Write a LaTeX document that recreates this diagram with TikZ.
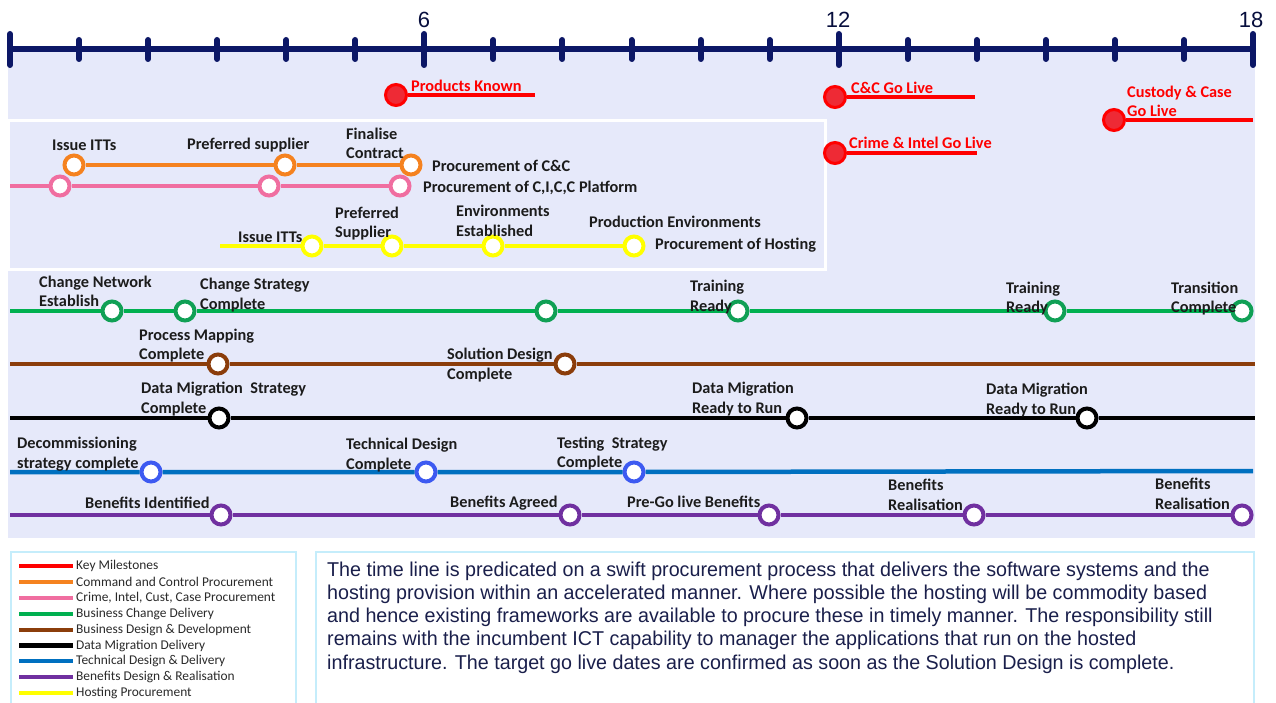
\documentclass[tikz,border=0pt]{standalone}
\usepackage{fontspec}
\setmainfont{Carlito}
\newfontfamily\descfont{Liberation Sans}[FakeStretch=0.985]
\newfontfamily\axisfont{Liberation Sans}

\definecolor{panelbg}{HTML}{E6E9FA}
\definecolor{axisnavy}{HTML}{0C1766}
\definecolor{keyred}{HTML}{FF0000}
\definecolor{keyfill}{HTML}{EE2A35}
\definecolor{ccorange}{HTML}{F5821F}
\definecolor{cicpink}{HTML}{F06EA0}
\definecolor{hostyellow}{HTML}{FFFF00}
\definecolor{bcgreen}{HTML}{00B050}
\definecolor{bcring}{HTML}{10A055}
\definecolor{bdbrown}{HTML}{8B3D0B}
\definecolor{dmblack}{HTML}{000000}
\definecolor{tdblue}{HTML}{0070C0}
\definecolor{tdring}{HTML}{3D5AF1}
\definecolor{bnpurple}{HTML}{7030A0}
\definecolor{labelcol}{HTML}{1C1C1C}
\definecolor{legendcol}{HTML}{2A2A2A}
\definecolor{boxedge}{HTML}{C5EDFB}
\definecolor{desccol}{HTML}{1A1F4B}

\tikzset{
  route/.style={line width=4.5pt, draw=#1},
  stn/.style={circle, draw=#1, line width=4pt, fill=white, minimum size=19pt, inner sep=0pt},
  keyms/.style={circle, draw=keyred, line width=3pt, fill=keyfill, minimum size=21pt, inner sep=0pt},
  keyline/.style={line width=4pt, draw=keyred},
  lbl/.style={font=\bfseries\fontsize{16.3}{19.5}\selectfont, text=labelcol, inner sep=0pt, align=left, anchor=west},
  keylbl/.style={font=\bfseries\fontsize{16.3}{19.5}\selectfont, text=keyred, inner sep=0pt, align=left, anchor=west},
  axisline/.style={line width=6pt, draw=axisnavy, line cap=round},
  ticklbl/.style={font=\axisfont\fontsize{22}{24}\selectfont, text=axisnavy!60!black, inner sep=0pt},
  legtext/.style={font=\fontsize{13.4}{15}\selectfont, text=legendcol, inner sep=0pt, anchor=west},
  legline/.style={line width=4.5pt, draw=#1, shorten >=3pt},
  framebox/.style={draw=boxedge, line width=2.5pt, fill=white}
}

\begin{document}
\begin{tikzpicture}[x=1pt, y=-1pt]
\useasboundingbox (0,0) rectangle (1276,703);

% background panel and procurement frame
\fill[panelbg] (8,49) rectangle (1255,538);
\draw[white, line width=3pt] (8,120.5) rectangle (825,269);

% time axis (months 0 to 18)
\coordinate (ax0) at (10,49);
\coordinate (ax18) at (1253,49);
\draw[axisline] (ax0) -- (ax18);
\foreach \m in {1,2,3,4,5,7,8,9,10,11,13,14,15,16,17} {
  \draw[axisline] ({10+\m*69.0556},40) -- ({10+\m*69.0556},59);
}
\foreach \m in {0,6,12,18} {
  \draw[axisline] ({10+\m*69.0556},34) -- ({10+\m*69.0556},65);
}
\node[ticklbl] (t6) at (424,20) {6};
\node[ticklbl] (t12) at (838,20) {12};
\node[ticklbl] (t18) at (1251,20) {18};

% key milestones
\node[keyms] (pk) at (396,95) {};
\coordinate (pkE) at (535,95);
\draw[keyline] (pk) -- (pkE);
\node[keyms] (cc) at (835,97) {};
\coordinate (ccE) at (975,97);
\draw[keyline] (cc) -- (ccE);
\node[keyms] (ci) at (835,153) {};
\coordinate (ciE) at (977,153);
\draw[keyline] (ci) -- (ciE);
\node[keyms] (cu) at (1114,120) {};
\coordinate (cuE) at (1253,120);
\draw[keyline] (cu) -- (cuE);
\node[keylbl] (pkL) at (411,86) {Products Known};
\node[keylbl] (ccL) at (851,88) {C\&C Go Live};
\node[keylbl] (ciL) at (849,143) {Crime \& Intel Go Live};
\node[keylbl] (cuL) at (1127,101.5) {Custody \& Case\\Go Live};

% command and control procurement
\node[stn=ccorange] (o1) at (74,165) {};
\node[stn=ccorange] (o2) at (285,165) {};
\node[stn=ccorange] (o3) at (411,165) {};
\draw[route=ccorange] (o1) -- (o2) -- (o3);

% crime, intel, cust, case procurement
\coordinate (pS) at (10,186);
\node[stn=cicpink] (p1) at (60,186) {};
\node[stn=cicpink] (p2) at (269,186) {};
\node[stn=cicpink] (p3) at (400,186) {};
\draw[route=cicpink] (pS) -- (p1) -- (p2) -- (p3);

% hosting procurement
\coordinate (yS) at (220,246);
\node[stn=hostyellow] (y1) at (312,246) {};
\node[stn=hostyellow] (y2) at (392,246) {};
\node[stn=hostyellow] (y3) at (493,246) {};
\node[stn=hostyellow] (y4) at (634,246) {};
\draw[route=hostyellow] (yS) -- (y1) -- (y2) -- (y3) -- (y4);

% business change delivery
\coordinate (gS) at (10,311);
\node[stn=bcring] (g1) at (112,311) {};
\node[stn=bcring] (g2) at (185,311) {};
\node[stn=bcring] (g3) at (546,311) {};
\node[stn=bcring] (g4) at (738,311) {};
\node[stn=bcring] (g5) at (1055,311) {};
\node[stn=bcring] (g6) at (1242,311) {};
\draw[route=bcgreen] (gS) -- (g1) -- (g2) -- (g3) -- (g4) -- (g5) -- (g6);

% business design and development
\coordinate (bS) at (10,364);
\node[stn=bdbrown] (b1) at (218,364) {};
\node[stn=bdbrown] (b2) at (565,364) {};
\coordinate (bE) at (1255,364);
\draw[route=bdbrown] (bS) -- (b1) -- (b2) -- (bE);

% data migration delivery
\coordinate (kS) at (10,418);
\node[stn=dmblack] (k1) at (219,418) {};
\node[stn=dmblack] (k2) at (797,418) {};
\node[stn=dmblack] (k3) at (1087,418) {};
\coordinate (kE) at (1255,418);
\draw[route=dmblack] (kS) -- (k1) -- (k2) -- (k3) -- (kE);

% technical design and delivery
\coordinate (uS) at (10,472);
\node[stn=tdring] (u1) at (151,472) {};
\node[stn=tdring] (u2) at (426,472) {};
\node[stn=tdring] (u3) at (634,472) {};
\coordinate (uE) at (1253,471);
\draw[route=tdblue] (uS) -- (u1) -- (u2) -- (u3) -- (uE);

% benefits design and realisation
\coordinate (vS) at (10,515);
\node[stn=bnpurple] (v1) at (221,515) {};
\node[stn=bnpurple] (v2) at (570,515) {};
\node[stn=bnpurple] (v3) at (769,515) {};
\node[stn=bnpurple] (v4) at (974,515) {};
\node[stn=bnpurple] (v5) at (1242,515) {};
\draw[route=bnpurple] (vS) -- (v1) -- (v2) -- (v3) -- (v4) -- (v5);

% milestone labels
\node[lbl] (o1L) at (52,145) {Issue ITTs};
\node[lbl] (o2L) at (187,145) {Preferred supplier};
\node[lbl] (o3L) at (346,143.5) {Finalise\\Contract};
\node[lbl] (oN) at (432,166) {Procurement of C\&C};
\node[lbl] (pN) at (423,188) {Procurement of C,I,C,C Platform};
\node[lbl] (y1L) at (238,237) {Issue ITTs};
\node[lbl] (y2L) at (335,223.5) {Preferred\\Supplier};
\node[lbl] (y3L) at (456,221) {Environments\\Established};
\node[lbl] (y4L) at (589,222) {Production Environments};
\node[lbl] (yN) at (655,245) {Procurement of Hosting};

\node[lbl] (g1L) at (39,291.5) {Change Network\\Establish};
\node[lbl] (g2L) at (200,295) {Change Strategy\\Complete};
\node[lbl] (g4L) at (690,297) {Training\\Ready};
\node[lbl] (g5L) at (1006,298.5) {Training\\Ready};
\node[lbl] (g6L) at (1171,298.5) {Transition\\Complete};

\node[lbl] (b1L) at (139,345.5) {Process Mapping\\Complete};
\node[lbl] (b2L) at (447,365) {Solution Design\\Complete};

\node[lbl] (k1L) at (141,399) {Data Migration\ \ Strategy\\Complete};
\node[lbl] (k2L) at (692,399) {Data Migration\\Ready to Run};
\node[lbl] (k3L) at (986,400) {Data Migration\\Ready to Run};

\node[lbl] (u1L) at (17,454) {Decommissioning\\strategy complete};
\node[lbl] (u2L) at (346,455) {Technical Design\\Complete};
\node[lbl] (u3L) at (557,453.5) {Testing\ \ Strategy\\Complete};

\node[lbl] (v1L) at (85,503) {Benefits Identified};
\node[lbl] (v2L) at (450,503) {Benefits Agreed};
\node[lbl] (v3L) at (627,502) {Pre-Go live Benefits};
\node[lbl] (v4L) at (888,495) {Benefits\\Realisation};
\node[lbl] (v5L) at (1155,494) {Benefits\\Realisation};

% legend
\draw[framebox] (11,552) rectangle (296,712);
\node[legtext] (l1) at (76,566) {Key Milestones};
\node[legtext] (l2) at (76,582) {Command and Control Procurement};
\node[legtext] (l3) at (76,598) {Crime, Intel, Cust, Case Procurement};
\node[legtext] (l4) at (76,614) {Business Change Delivery};
\node[legtext] (l5) at (76,630) {Business Design \& Development};
\node[legtext] (l6) at (76,645.5) {Data Migration Delivery};
\node[legtext] (l7) at (76,661) {Technical Design \& Delivery};
\node[legtext] (l8) at (76,677) {Benefits Design \& Realisation};
\node[legtext] (l9) at (76,693) {Hosting Procurement};
\draw[legline=keyred] (19,566) -- (l1.west);
\draw[legline=ccorange] (19,582) -- (l2.west);
\draw[legline=cicpink] (19,598) -- (l3.west);
\draw[legline=bcgreen] (19,614) -- (l4.west);
\draw[legline=bdbrown] (19,630) -- (l5.west);
\draw[legline=dmblack] (19,645.5) -- (l6.west);
\draw[legline=tdblue] (19,661) -- (l7.west);
\draw[legline=bnpurple] (19,677) -- (l8.west);
\draw[legline=hostyellow] (19,693) -- (l9.west);

% explanatory note
\draw[framebox] (316,552) rectangle (1254,712);
\node[font=\descfont\fontsize{20}{23.3}\selectfont, text=desccol, inner sep=0pt, align=left, anchor=west] (note) at (327,617.5)
{The time line is predicated on a swift procurement process that delivers the software systems and the\\
hosting provision within an accelerated manner. Where possible the hosting will be commodity based\\
and hence existing frameworks are available to procure these in timely manner. The responsibility still\\
remains with the incumbent ICT capability to manager the applications that run on the hosted\\
infrastructure. The target go live dates are confirmed as soon as the Solution Design is complete.};
\end{tikzpicture}
\end{document}
